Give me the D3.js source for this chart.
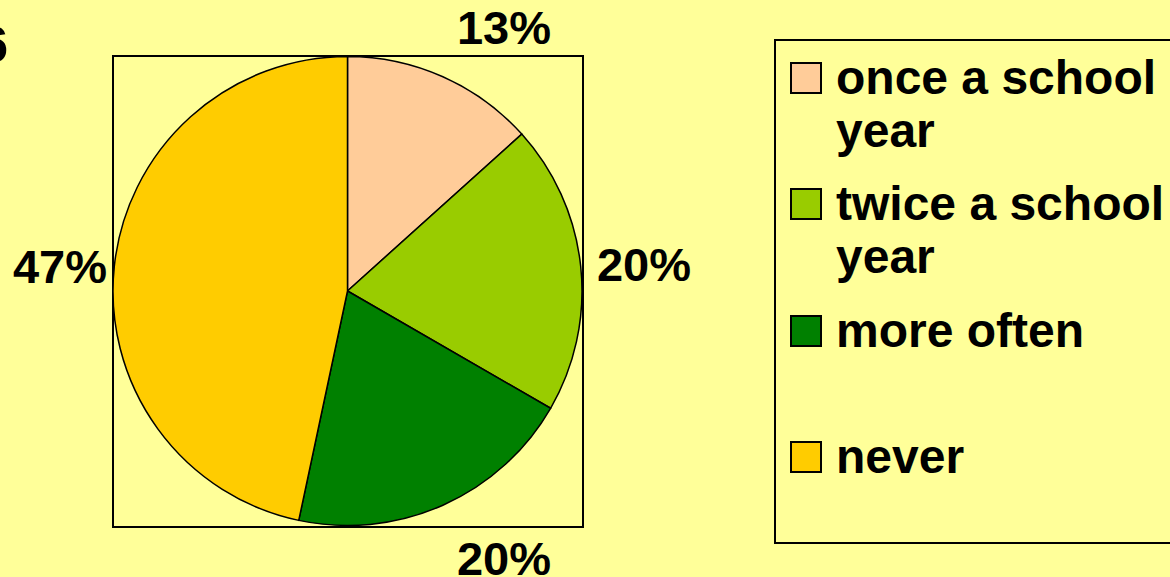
<!DOCTYPE html>
<html>
<head>
<meta charset="utf-8">
<script src="https://cdn.jsdelivr.net/npm/d3@7"></script>
<style>
  html, body { margin: 0; padding: 0; background: #FFFF99; }
  svg { display: block; }
  text { font-family: "Liberation Sans", Arial, sans-serif; font-weight: bold; fill: #000; }
</style>
</head>
<body>
<svg id="chart" width="1170" height="577"></svg>
<script>
const categories = ["once a school year", "twice a school year", "more often", "never"];
const legendLines = [["once a school", "year"], ["twice a school", "year"], ["more often"], ["never"]];
const values = [2, 3, 3, 7];
const percentLabels = ["13%", "20%", "20%", "47%"];
const colors = ["#FFCC99", "#99CC00", "#008000", "#FFCC00"];

const svg = d3.select("#chart");
svg.append("rect").attr("width", 1170).attr("height", 577).attr("fill", "#FFFF99");

// cut-off title fragment
svg.append("text").attr("x", 8).attr("y", 62).attr("text-anchor", "end")
  .style("font-size", "50px").text("6");

// plot area box
svg.append("rect").attr("x", 113).attr("y", 56).attr("width", 470).attr("height", 471)
  .attr("fill", "none").attr("stroke", "#000").attr("stroke-width", 2);

const cx = 347.5, cy = 291, r = 234.5;
const pie = d3.pie().sort(null).value(d => d).startAngle(0).endAngle(2 * Math.PI);
const arcs = pie(values);
const arc = d3.arc().innerRadius(0).outerRadius(r);

const g = svg.append("g").attr("transform", `translate(${cx},${cy})`);
g.selectAll("path").data(arcs).enter().append("path")
  .attr("d", arc)
  .attr("fill", (d, i) => colors[i])
  .attr("stroke", "#000").attr("stroke-width", 1.5).attr("stroke-linejoin", "round");

const labelPos = [
  {x: 504, y: 44},
  {x: 644, y: 281},
  {x: 504, y: 575},
  {x: 60, y: 283}
];
svg.selectAll("text.pct").data(arcs).enter().append("text")
  .attr("class", "pct")
  .attr("x", (d, i) => labelPos[i].x)
  .attr("y", (d, i) => labelPos[i].y)
  .attr("text-anchor", "middle")
  .style("font-size", "47px")
  .text((d, i) => percentLabels[i]);

// legend
svg.append("rect").attr("x", 775).attr("y", 40).attr("width", 420).attr("height", 503)
  .attr("fill", "none").attr("stroke", "#000").attr("stroke-width", 2);

const legendBaselines = [94, 220, 347, 473];
const lg = svg.append("g");
categories.forEach((c, i) => {
  const by = legendBaselines[i];
  lg.append("rect").attr("x", 791).attr("y", by - 31).attr("width", 30).attr("height", 30)
    .attr("fill", colors[i]).attr("stroke", "#000").attr("stroke-width", 2);
  const t = lg.append("text").attr("x", 836).attr("y", by).style("font-size", "48px");
  legendLines[i].forEach((line, j) => {
    t.append("tspan").attr("x", 836).attr("dy", j === 0 ? 0 : 53).text(line);
  });
});
</script>
</body>
</html>
